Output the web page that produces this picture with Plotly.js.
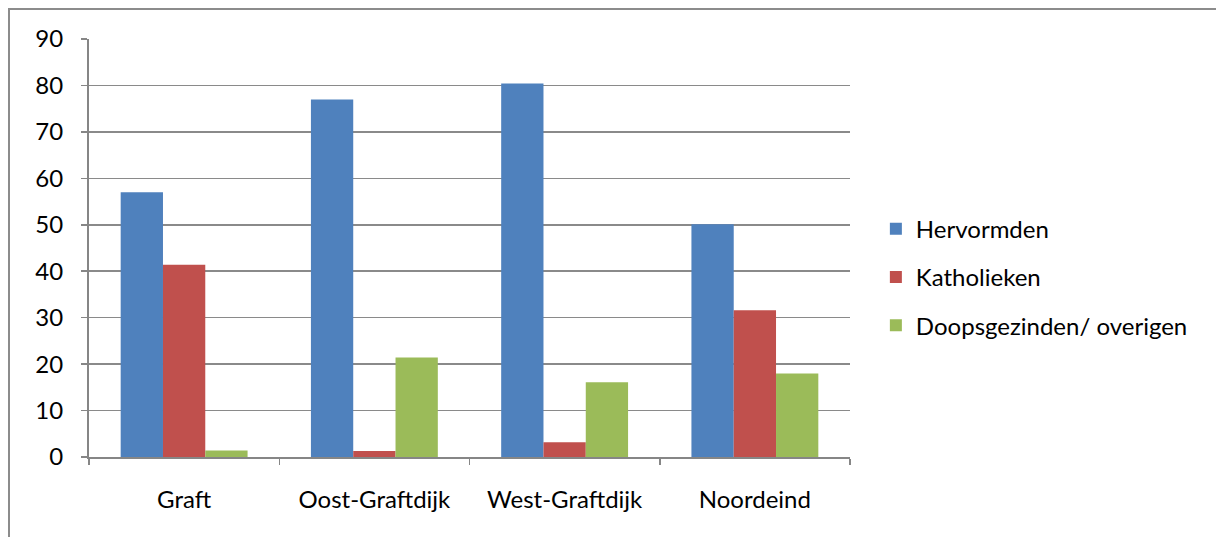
<!DOCTYPE html>
<html>
<head>
<meta charset="utf-8">
<script src="https://cdn.plot.ly/plotly-3.0.1.min.js"></script>
<style>
  html, body { margin: 0; padding: 0; background: #fff; }
  #wrap { position: relative; width: 1216px; height: 537px; overflow: hidden; }
  #chart { position: absolute; left: 0; top: 0; width: 1216px; height: 537px; }
  #frame { position: absolute; left: 8px; top: 8px; width: 1240px; height: 560px;
           border-top: 2px solid #8c8c8c; border-left: 2px solid #8c8c8c; pointer-events: none; }
</style>
</head>
<body>
<div id="wrap">
  <div id="chart"></div>
  <div id="frame"></div>
</div>
<script>
const categories = ["Graft", "Oost-Graftdijk", "West-Graftdijk", "Noordeind"];
const seriesNames = ["Hervormden", "Katholieken", "Doopsgezinden/ overigen"];
const hervormden = [57.0, 77.0, 80.4, 50.1];
const katholieken = [41.4, 1.3, 3.2, 31.6];
const doopsgezinden = [1.4, 21.4, 16.1, 18.0];
const colors = ["#4F81BD", "#C0504D", "#9BBB59"];
const yTicks = [0, 10, 20, 30, 40, 50, 60, 70, 80, 90];

const seriesValues = [hervormden, katholieken, doopsgezinden];
const traces = seriesValues.map((vals, i) => ({
  type: "bar",
  name: seriesNames[i],
  x: categories,
  y: vals,
  legendgroup: "g" + i,
  marker: { color: colors[i], line: { width: 0 } },
  hoverinfo: "x+y+name"
}));

const font = { family: "Lato, 'Open Sans', sans-serif", size: 24, color: "#000" };

const layout = {
  width: 1216,
  height: 537,
  margin: { l: 89, r: 366, t: 39, b: 80 },
  paper_bgcolor: "#fff",
  plot_bgcolor: "#fff",
  font: font,
  barmode: "group",
  bargap: 0.333,
  bargroupgap: 0,
  showlegend: true,
  legend: {
    x: 1.034, xanchor: "left",
    y: 0.43, yanchor: "middle",
    font: font,
    tracegroupgap: 14,
    itemwidth: 30,
    bgcolor: "rgba(0,0,0,0)"
  },
  xaxis: {
    type: "category",
    showline: true,
    linecolor: "#868686",
    linewidth: 2,
    ticks: "outside",
    tickson: "boundaries",
    ticklen: 6,
    tickwidth: 1.5,
    tickcolor: "#868686",
    showgrid: false,
    ticklabelstandoff: 20,
    tickfont: font
  },
  yaxis: {
    range: [0, 90],
    tickvals: yTicks,
    ticktext: yTicks.map(String),
    showline: true,
    linecolor: "#868686",
    linewidth: 2,
    ticks: "outside",
    ticklen: 6,
    tickwidth: 1.5,
    tickcolor: "#868686",
    showgrid: true,
    gridcolor: "#8a8a8a",
    gridwidth: 1.5,
    zeroline: false,
    ticklabelstandoff: 13,
    tickfont: font
  }
};

Plotly.newPlot("chart", traces, layout, { displayModeBar: false, staticPlot: true });
</script>
</body>
</html>
